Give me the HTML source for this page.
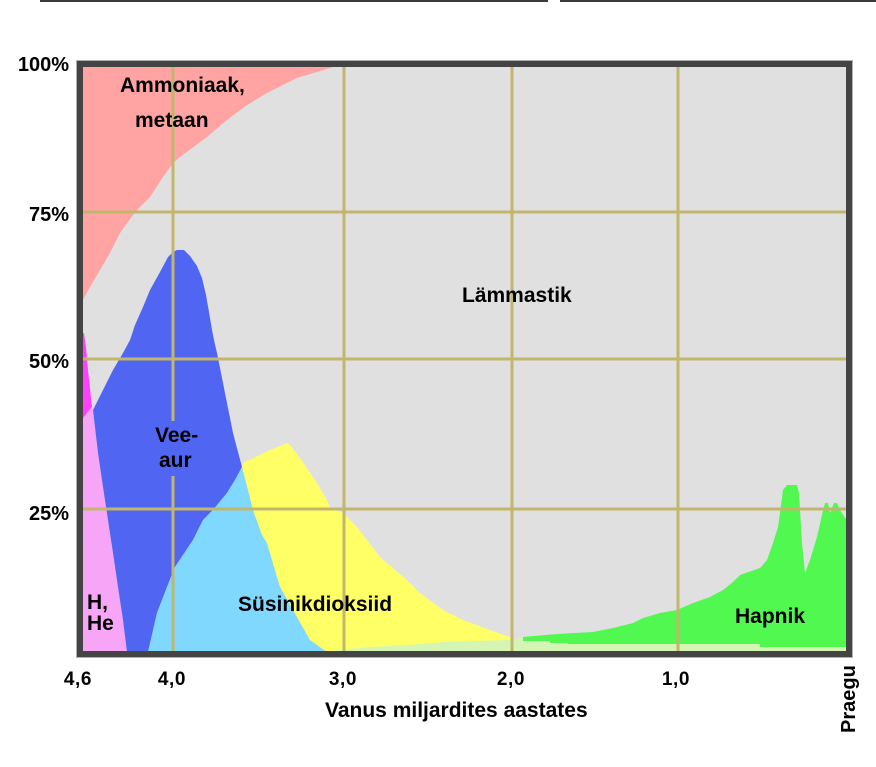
<!DOCTYPE html>
<html>
<head>
<meta charset="utf-8">
<style>
  html,body{margin:0;padding:0;background:#fff;}
  svg{display:block;}
  text{font-family:"Liberation Sans",Arial,sans-serif;font-weight:bold;fill:#000;}
</style>
</head>
<body>
<svg width="876" height="767" viewBox="0 0 876 767" xmlns="http://www.w3.org/2000/svg">
  <rect x="0" y="0" width="876" height="767" fill="#ffffff"/>
  <!-- top dark line -->
  <rect x="40" y="0" width="508" height="2" fill="#3a3a3a"/>
  <rect x="560" y="0" width="316" height="2" fill="#3a3a3a"/>

  <!-- plot background -->
  <rect x="83" y="67" width="763" height="585" fill="#e0e0e0"/>

  <!-- Ammoniaak, metaan -->
  <polygon fill="#ffa3a3" points="83,67 333,67 317,72 297,78 267,93 247,105 227,120 207,137 180,157 173,163 163,177 150,197 140,207 133,215 120,233 110,253 100,270 90,287 83,300"/>

  <!-- magenta strip -->
  <polygon fill="#ff40ff" points="82,333 84,333 86,347 88,370 92,407 83,418"/>

  <!-- H, He -->
  <polygon fill="#f7a6f7" points="83,418 92,407 93,410 98,453 103,487 108,520 113,553 118,587 123,620 127,652 83,652"/>

  <!-- Vee-aur -->
  <polygon fill="#5066f2" points="93,410 103,390 113,370 123,353 130,340 135,325 143,307 150,290 160,272 168,257 173,252 177,250 184,250 190,256 197,266 202,278 206,295 209,312 212,330 214,340 217,353 222,378 227,403 233,433 242,467 235,480 227,493 213,510 203,520 193,540 175,567 167,587 157,613 148,652 127,652 123,620 118,587 113,553 108,520 103,487 98,453"/>

  <!-- light blue -->
  <polygon fill="#80d8ff" points="148,652 157,613 167,587 175,567 193,540 203,520 213,510 227,493 235,480 242,467 248,490 253,510 262,535 267,543 280,587 297,617 310,640 327,652"/>

  <!-- yellow -->
  <polygon fill="#ffff66" points="242,467 243,463 270,450 287,443 290,445 300,458 315,480 327,500 330,508 343,513 357,527 380,557 407,580 420,593 443,610 463,620 490,630 510,637 512,640 480,641 447,642 410,645 373,647 340,650 327,652 310,640 297,617 280,587 267,543 262,535 253,510 248,490"/>

  <!-- pale green strip -->
  <polygon fill="#d4f5b4" points="327,652 340,650 373,647 410,645 447,642 480,641 512,640 523,637 846,637 846,652"/>

  <!-- Hapnik (green) -->
  <polygon fill="#50f850" points="523,637 557,634 593,632 613,628 633,623 643,618 660,613 677,610 693,603 710,597 723,590 733,582 740,575 760,568 767,560 773,543 778,527 781,505 783,490 787,485 797,485 799,493 802,543 805,573 810,560 817,537 822,515 825,503 828,503 830,513 834,503 837,503 840,510 845,518 846,518 846,647 760,647 760,644 568,644 568,643 550,643 550,641 523,641"/>

  <!-- gridlines -->
  <g stroke="#c2b66c" stroke-width="3">
    <line x1="173" y1="67" x2="173" y2="652"/>
    <line x1="344" y1="67" x2="344" y2="652"/>
    <line x1="512" y1="67" x2="512" y2="652"/>
    <line x1="678" y1="67" x2="678" y2="652"/>
    <line x1="83" y1="212" x2="846" y2="212"/>
    <line x1="83" y1="359" x2="846" y2="359"/>
    <line x1="83" y1="509" x2="846" y2="509"/>
  </g>
  <!-- break of gridline behind Vee-aur label -->
  <rect x="170" y="421" width="6" height="55" fill="#5066f2"/>

  <!-- frame -->
  <rect x="76.5" y="60.5" width="776" height="597" fill="none" stroke="#b0b0b0" stroke-width="1"/>
  <rect x="80" y="64" width="769" height="590" fill="none" stroke="#444444" stroke-width="6"/>

  <!-- region labels -->
  <text x="120" y="92" font-size="21">Ammoniaak,</text>
  <text x="135" y="127" font-size="21">metaan</text>
  <text x="462" y="302" font-size="21">Lämmastik</text>
  <text x="155" y="442" font-size="21">Vee-</text>
  <text x="159" y="467" font-size="21">aur</text>
  <text x="87" y="609" font-size="21">H,</text>
  <text x="87" y="630" font-size="21">He</text>
  <text x="238" y="611" font-size="21">Süsinikdioksiid</text>
  <text x="735" y="623" font-size="21">Hapnik</text>

  <!-- y axis labels -->
  <text x="69" y="71" font-size="20" text-anchor="end">100%</text>
  <text x="69" y="221" font-size="20" text-anchor="end">75%</text>
  <text x="69" y="368" font-size="20" text-anchor="end">50%</text>
  <text x="69" y="520" font-size="20" text-anchor="end">25%</text>

  <!-- x axis labels -->
  <g font-size="19" text-anchor="middle" letter-spacing="0.6">
    <text x="78" y="685">4,6</text>
    <text x="172" y="685">4,0</text>
    <text x="343" y="685">3,0</text>
    <text x="511" y="685">2,0</text>
    <text x="676" y="685">1,0</text>
  </g>
  <text x="325" y="717" font-size="21">Vanus miljardites aastates</text>
  <text transform="translate(855,733) rotate(-90)" font-size="20">Praegu</text>
</svg>
</body>
</html>
